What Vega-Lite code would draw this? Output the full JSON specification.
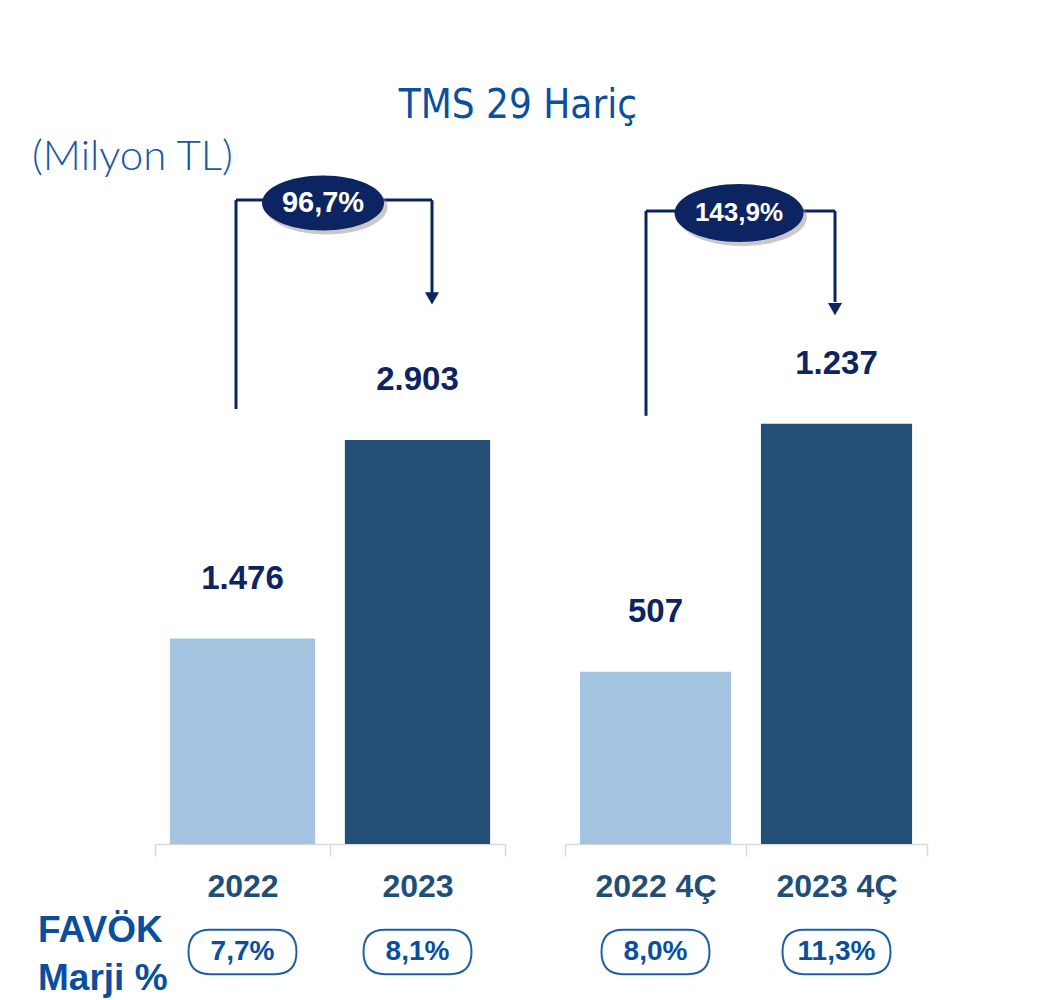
{
  "$schema": "https://vega.github.io/schema/vega-lite/v6.json",
  "background": "white",
  "padding": {"left": 32, "top": 86, "right": 5, "bottom": 5},
  "title": {"text": "TMS 29 Hariç", "anchor": "middle", "dx": 38, "offset": 3, "fontSize": 40, "font": "'Liberation Sans Narrow', 'Arial Narrow', 'DejaVu Sans Condensed', Roboto, sans-serif", "fontWeight": "normal", "color": "#0b4f9f"},
  "config": {
    "view": {"stroke": null},
    "concat": {"spacing": 58},
    "locale": {"number": {"decimal": ",", "thousands": ".", "grouping": [3], "currency": ["", " TL"]}},
    "axisX": {"title": null, "domainColor": "#d9d9d9", "domainWidth": 1.5, "tickColor": "#d9d9d9", "tickWidth": 1.5, "tickSize": 12, "tickBand": "extent", "labelFontSize": 32, "labelFont": "Liberation Sans", "labelFontWeight": "bold", "labelColor": "#1f4e79", "labelPadding": 15, "labelAngle": 0}
  },
  "hconcat": [
    {
      "width": 350,
      "height": 715,
      "data": {"values": [
        {"period": "2022", "year": "2022", "value": 1476, "margin": "7,7%"},
        {"period": "2023", "year": "2023", "value": 2903, "margin": "8,1%"}
      ]},
      "layer": [
        {
          "mark": {"type": "bar", "width": {"band": 0.83}},
          "encoding": {
            "x": {"field": "period", "type": "nominal", "sort": null, "scale": {"paddingInner": 0, "paddingOuter": 0}},
            "y": {"field": "value", "type": "quantitative", "scale": {"domain": [0, 5138], "nice": false}, "axis": null},
            "color": {"field": "year", "type": "nominal", "scale": {"domain": ["2022", "2023"], "range": ["#a4c4e2", "#234f77"]}, "legend": null}
          }
        },
        {
          "mark": {"type": "text", "dy": -60, "baseline": "middle", "fontSize": 33, "fontWeight": "bold", "font": "Liberation Sans", "color": "#0c2461"},
          "encoding": {
            "x": {"field": "period", "type": "nominal", "sort": null},
            "y": {"field": "value", "type": "quantitative"},
            "text": {"field": "value", "type": "quantitative", "format": ",d"}
          }
        },
        {
          "mark": {"type": "point", "shape": "M -0.6 -0.41 L 0.6 -0.41 Q 1 -0.41 1 0 Q 1 0.41 0.6 0.41 L -0.6 0.41 Q -1 0.41 -1 0 Q -1 -0.41 -0.6 -0.41 Z", "size": 11664, "filled": false, "stroke": "#1f5fa8", "strokeWidth": 2, "opacity": 1, "yOffset": 108},
          "encoding": {
            "x": {"field": "period", "type": "nominal", "sort": null},
            "y": {"datum": 0}
          }
        },
        {
          "mark": {"type": "text", "dy": 108, "baseline": "middle", "fontSize": 28, "fontWeight": "bold", "font": "Liberation Sans", "color": "#0a4f9e"},
          "encoding": {
            "x": {"field": "period", "type": "nominal", "sort": null},
            "y": {"datum": 0},
            "text": {"field": "margin"}
          }
        },
        {
          "data": {"values": [{}]},
          "mark": {"type": "text", "text": ["FAVÖK", "Marji %"], "align": "left", "baseline": "middle", "lineHeight": 48, "dx": -204.5, "dy": 87, "fontSize": 37, "fontWeight": "bold", "font": "Liberation Sans", "color": "#0a4f9e"},
          "encoding": {"x": {"datum": "2022", "type": "nominal"}, "y": {"datum": 0}}
        },
        {
          "data": {"values": [{}]},
          "mark": {"type": "text", "text": "(Milyon TL)", "align": "left", "baseline": "middle", "dx": -210.5, "dy": 28, "fontSize": 42, "fontWeight": 300, "font": "Lato", "color": "#1a58a4"},
          "encoding": {"x": {"datum": "2022", "type": "nominal"}, "y": {"datum": 5138}}
        },
        {
          "data": {"values": [{}]},
          "mark": {"type": "rule", "color": "#0c2461", "strokeWidth": 3, "xOffset": -6.5},
          "encoding": {"x": {"datum": "2022", "type": "nominal"}, "y": {"datum": 3126}, "y2": {"datum": 4627}}
        },
        {
          "data": {"values": [{}]},
          "mark": {"type": "rule", "color": "#0c2461", "strokeWidth": 3, "xOffset": -6.5, "x2Offset": 14.5},
          "encoding": {"x": {"datum": "2022", "type": "nominal"}, "x2": {"datum": "2023"}, "y": {"datum": 4627}}
        },
        {
          "data": {"values": [{}]},
          "mark": {"type": "rule", "color": "#0c2461", "strokeWidth": 3, "xOffset": 14.5},
          "encoding": {"x": {"datum": "2023", "type": "nominal"}, "y": {"datum": 4627}, "y2": {"datum": 3952}}
        },
        {
          "data": {"values": [{}]},
          "mark": {"type": "point", "shape": "triangle-down", "size": 200, "filled": true, "color": "#0c2461", "opacity": 1, "xOffset": 14.5},
          "encoding": {"x": {"datum": "2023", "type": "nominal"}, "y": {"datum": 3920}}
        },
        {
          "data": {"values": [{}]},
          "mark": {"type": "point", "shape": "M -1 0 A 1 0.45 0 1 1 1 0 A 1 0.45 0 1 1 -1 0 Z", "size": 14884, "filled": true, "color": "#888888", "opacity": 0.45, "xOffset": 84, "yOffset": 4},
          "encoding": {"x": {"datum": "2022", "type": "nominal"}, "y": {"datum": 4606}}
        },
        {
          "data": {"values": [{}]},
          "mark": {"type": "point", "shape": "M -1 0 A 1 0.45 0 1 1 1 0 A 1 0.45 0 1 1 -1 0 Z", "size": 14884, "filled": true, "color": "#0c2461", "opacity": 1, "xOffset": 80.5},
          "encoding": {"x": {"datum": "2022", "type": "nominal"}, "y": {"datum": 4606}}
        },
        {
          "data": {"values": [{}]},
          "mark": {"type": "text", "text": "96,7%", "baseline": "middle", "xOffset": 80.5, "fontSize": 29, "fontWeight": "bold", "font": "Liberation Sans", "color": "white"},
          "encoding": {"x": {"datum": "2022", "type": "nominal"}, "y": {"datum": 4606}}
        }
      ]
    },
    {
      "width": 362,
      "height": 715,
      "data": {"values": [
        {"period": "2022 4Ç", "year": "2022", "value": 507, "margin": "8,0%"},
        {"period": "2023 4Ç", "year": "2023", "value": 1237, "margin": "11,3%"}
      ]},
      "layer": [
        {
          "mark": {"type": "bar", "width": {"band": 0.835}},
          "encoding": {
            "x": {"field": "period", "type": "nominal", "sort": null, "scale": {"paddingInner": 0, "paddingOuter": 0}},
            "y": {"field": "value", "type": "quantitative", "scale": {"domain": [0, 2104], "nice": false}, "axis": null},
            "color": {"field": "year", "type": "nominal", "scale": {"domain": ["2022", "2023"], "range": ["#a4c4e2", "#234f77"]}, "legend": null}
          }
        },
        {
          "mark": {"type": "text", "dy": -60, "baseline": "middle", "fontSize": 33, "fontWeight": "bold", "font": "Liberation Sans", "color": "#0c2461"},
          "encoding": {
            "x": {"field": "period", "type": "nominal", "sort": null},
            "y": {"field": "value", "type": "quantitative"},
            "text": {"field": "value", "type": "quantitative", "format": ",d"}
          }
        },
        {
          "mark": {"type": "point", "shape": "M -0.6 -0.41 L 0.6 -0.41 Q 1 -0.41 1 0 Q 1 0.41 0.6 0.41 L -0.6 0.41 Q -1 0.41 -1 0 Q -1 -0.41 -0.6 -0.41 Z", "size": 11664, "filled": false, "stroke": "#1f5fa8", "strokeWidth": 2, "opacity": 1, "yOffset": 108},
          "encoding": {
            "x": {"field": "period", "type": "nominal", "sort": null},
            "y": {"datum": 0}
          }
        },
        {
          "mark": {"type": "text", "dy": 108, "baseline": "middle", "fontSize": 28, "fontWeight": "bold", "font": "Liberation Sans", "color": "#0a4f9e"},
          "encoding": {
            "x": {"field": "period", "type": "nominal", "sort": null},
            "y": {"datum": 0},
            "text": {"field": "margin"}
          }
        },
        {
          "data": {"values": [{}]},
          "mark": {"type": "rule", "color": "#0c2461", "strokeWidth": 3, "xOffset": -9.5},
          "encoding": {"x": {"datum": "2022 4Ç", "type": "nominal"}, "y": {"datum": 1260}, "y2": {"datum": 1863}}
        },
        {
          "data": {"values": [{}]},
          "mark": {"type": "rule", "color": "#0c2461", "strokeWidth": 3, "xOffset": -9.5, "x2Offset": -1.5},
          "encoding": {"x": {"datum": "2022 4Ç", "type": "nominal"}, "x2": {"datum": "2023 4Ç"}, "y": {"datum": 1863}}
        },
        {
          "data": {"values": [{}]},
          "mark": {"type": "rule", "color": "#0c2461", "strokeWidth": 3, "xOffset": -1.5},
          "encoding": {"x": {"datum": "2023 4Ç", "type": "nominal"}, "y": {"datum": 1863}, "y2": {"datum": 1595}}
        },
        {
          "data": {"values": [{}]},
          "mark": {"type": "point", "shape": "triangle-down", "size": 200, "filled": true, "color": "#0c2461", "opacity": 1, "xOffset": -1.5},
          "encoding": {"x": {"datum": "2023 4Ç", "type": "nominal"}, "y": {"datum": 1574}}
        },
        {
          "data": {"values": [{}]},
          "mark": {"type": "point", "shape": "M -1 0 A 1 0.45 0 1 1 1 0 A 1 0.45 0 1 1 -1 0 Z", "size": 16641, "filled": true, "color": "#888888", "opacity": 0.45, "xOffset": 87, "yOffset": 4},
          "encoding": {"x": {"datum": "2022 4Ç", "type": "nominal"}, "y": {"datum": 1857}}
        },
        {
          "data": {"values": [{}]},
          "mark": {"type": "point", "shape": "M -1 0 A 1 0.45 0 1 1 1 0 A 1 0.45 0 1 1 -1 0 Z", "size": 16641, "filled": true, "color": "#0c2461", "opacity": 1, "xOffset": 83.5},
          "encoding": {"x": {"datum": "2022 4Ç", "type": "nominal"}, "y": {"datum": 1857}}
        },
        {
          "data": {"values": [{}]},
          "mark": {"type": "text", "text": "143,9%", "baseline": "middle", "xOffset": 83.5, "fontSize": 26, "fontWeight": "bold", "font": "Liberation Sans", "color": "white"},
          "encoding": {"x": {"datum": "2022 4Ç", "type": "nominal"}, "y": {"datum": 1857}}
        }
      ]
    }
  ]
}
